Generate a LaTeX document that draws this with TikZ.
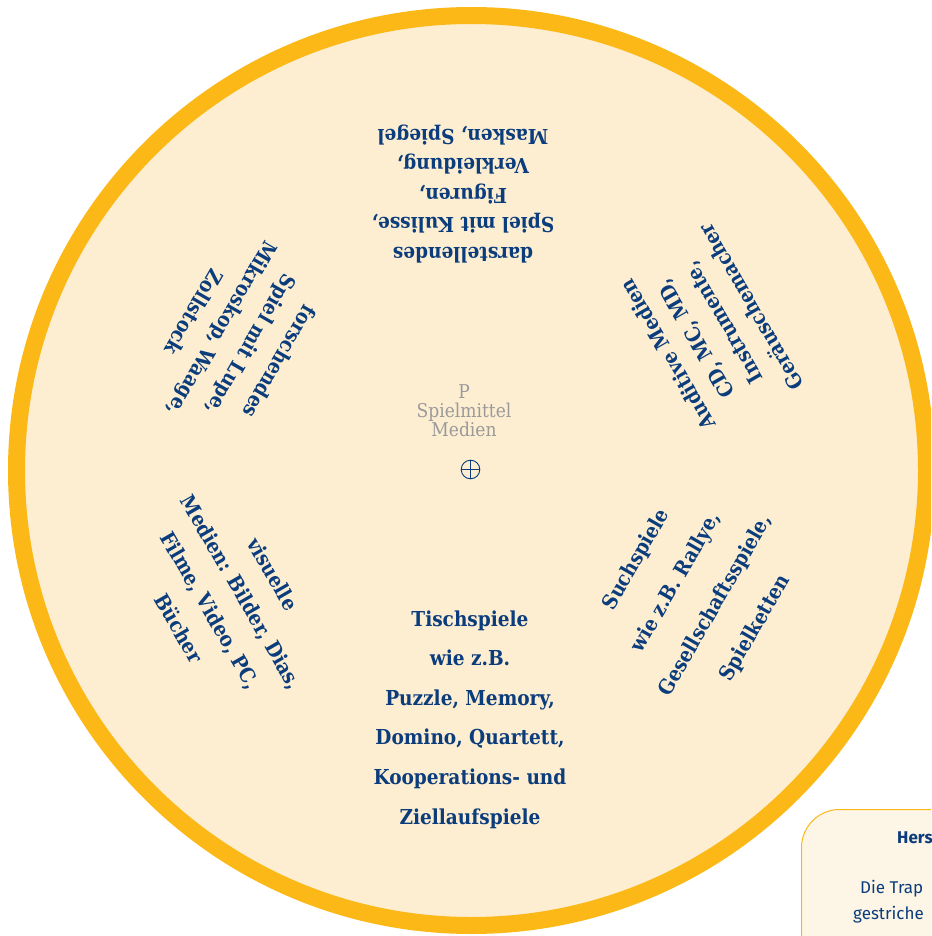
\documentclass[tikz,border=0pt]{standalone}
\usepackage{fontspec}
\setmainfont{DejaVu Serif Condensed}
\newfontfamily\boxfont{Fira Sans}
\definecolor{ring}{HTML}{FBB817}
\definecolor{cream}{HTML}{FDEED2}
\definecolor{boxcream}{HTML}{FDF5E5}
\definecolor{navy}{HTML}{0B3C7C}
\definecolor{greytxt}{HTML}{9A9A9A}
\tikzset{
  blocktext/.style={text=navy, align=center, inner sep=0pt,
    font=\bfseries\fontsize{20.6}{#1}\selectfont},
  boxtext/.style={text=navy, anchor=west, inner sep=0pt,
    font=\boxfont\fontsize{17}{20}\selectfont}
}
\begin{document}
\begin{tikzpicture}[x=1pt,y=-1pt]
\useasboundingbox (0,0) rectangle (931,936);
\clip (0,0) rectangle (931,936);
% wheel
\node[circle, draw=ring, line width=17pt, fill=cream, minimum size=910pt, inner sep=0pt] (wheel) at (471.5,470.5) {};
% centre
\node[text=greytxt, align=center, inner sep=0pt, font=\fontsize{19}{19}\selectfont] (label) at (464,411) {P\\Spielmittel\\Medien};
\node[circle, draw=navy, line width=0.9pt, minimum size=18.6pt, inner sep=0pt] (cross) at (470.5,469.5) {};
\draw[navy, line width=0.9pt] (cross.north) -- (cross.south);
\draw[navy, line width=0.9pt] (cross.west) -- (cross.east);
% text blocks
\node[blocktext=29.5, rotate=180] (top) at (463,194) {darstellendes\\Spiel mit Kulisse,\\Figuren,\\Verkleidung,\\Masken, Spiegel};
\node[blocktext=32, rotate=120] (uright) at (709,331) {Auditive Medien\\CD, MC, MD,\\Instrumente,\\Geräuschemacher};
\node[blocktext=33, rotate=240] (uleft) at (237,337) {forschendes\\Spiel mit Lupe,\\Mikroskop, Waage,\\Zollstock};
\node[blocktext=36, rotate=-60] (lleft) at (226,601) {visuelle\\Medien: Bilder, Dias,\\Filme, Video, PC,\\Bücher};
\node[blocktext=45.7, rotate=60] (lright) at (696,594) {Suchspiele\\wie z.B. Rallye,\\Gesellschaftsspiele,\\Spielketten};
\node[blocktext=39.6] (bottom) at (470,719.5) {Tischspiele\\wie z.B.\\Puzzle, Memory,\\Domino, Quartett,\\Kooperations- und\\Ziellaufspiele};
% info box at lower right
\node[draw=ring, line width=1pt, fill=boxcream, rounded corners=38pt, anchor=north west, minimum width=200pt, minimum height=200pt] (infobox) at (801,809) {};
\node[boxtext, font=\boxfont\bfseries\fontsize{17}{20}\selectfont] (hers) at (897,838) {Hers};
\node[boxtext] (line1) at (860,889) {Die Trap};
\node[boxtext] (line2) at (853,915) {gestriche};
\end{tikzpicture}
\end{document}
